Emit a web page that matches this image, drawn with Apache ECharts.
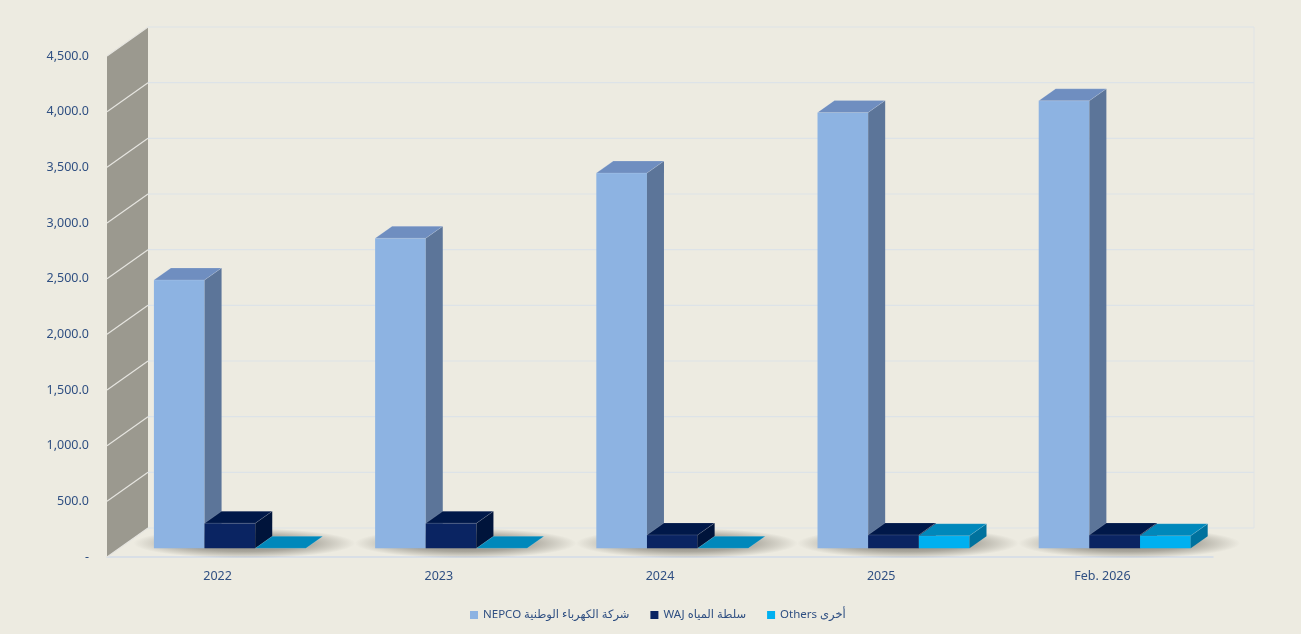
<!DOCTYPE html>
<html>
<head>
<meta charset="utf-8">
<script src="https://cdn.jsdelivr.net/npm/echarts@6/dist/echarts.min.js"></script>
<style>
  html, body { margin: 0; padding: 0; background: #EDEBE1; }
  #chart { width: 1301px; height: 634px; }
</style>
</head>
<body>
<div id="chart"></div>
<script>
// Annual figures per entity
const categories = ['2022', '2023', '2024', '2025', 'Feb. 2026'];
const seriesNames = ['NEPCO شركة الكهرباء الوطنية', 'WAJ سلطة المياه', 'Others أخرى'];
const nepcoValues = [2410, 2785, 3370, 3915, 4020];
const wajValues = [225, 225, 120, 120, 120];
const othersValues = [0, 0, 0, 113, 113];
const yTicks = [0, 500, 1000, 1500, 2000, 2500, 3000, 3500, 4000, 4500];

// Oblique projection of the depth direction (pixels)
const DEPTH = [41, -29];      // full floor depth: front edge -> back wall
const PLANE = [12.3, -8.7];   // depth at which the bar fronts stand
const BAR_DEPTH = [17, -12];  // thickness of each column
const BAR_FRAC = 0.229;       // column width as a share of the category band

const FONT = 'Noto Sans, DejaVu Sans, sans-serif';
const TEXT_COLOR = '#2F4F82';

const palette = [
  { front: '#8DB3E2', top: '#6F8EC0', side: '#5C7599' },
  { front: '#0A2462', top: '#001849', side: '#00143B' },
  { front: '#00B0F0', top: '#0088BB', side: '#00729E' }
];

function fmtTick(v) {
  if (v === 0) return '-';
  return v.toLocaleString('en-US', { minimumFractionDigits: 1, maximumFractionDigits: 1 });
}

// Back wall, side wall and their gridlines
function renderWalls(params, api) {
  const cs = params.coordSys;
  const left = cs.x, top = cs.y, right = cs.x + cs.width, bottom = cs.y + cs.height;
  const children = [{
    type: 'polygon',
    shape: { points: [[left, top], [left + DEPTH[0], top + DEPTH[1]], [left + DEPTH[0], bottom + DEPTH[1]], [left, bottom]] },
    style: { fill: '#9B998F' }
  }];
  yTicks.forEach(function (t) {
    const y = api.coord([0, t])[1];
    children.push({
      type: 'line',
      shape: { x1: left, y1: y, x2: left + DEPTH[0], y2: y + DEPTH[1] },
      style: { stroke: '#E6E5E0', lineWidth: 1.2 }
    });
    children.push({
      type: 'line',
      shape: { x1: left + DEPTH[0], y1: y + DEPTH[1], x2: right + DEPTH[0], y2: y + DEPTH[1] },
      style: { stroke: '#DDE3E8', lineWidth: 1.2 }
    });
  });
  children.push({
    type: 'line',
    shape: { x1: right + DEPTH[0], y1: top + DEPTH[1], x2: right + DEPTH[0], y2: bottom + DEPTH[1] },
    style: { stroke: '#DFE3E6', lineWidth: 1 }
  });
  return { type: 'group', children: children };
}

// Soft floor shadow under each cluster
function renderShadow(params, api) {
  const cat = api.value(0);
  const base = api.coord([cat, 0]);
  const band = api.size([1, 0])[0];
  const w = band * BAR_FRAC;
  const cx = base[0] + PLANE[0] + BAR_DEPTH[0] * 0.5 + 6;
  const cy = base[1] + PLANE[1] + BAR_DEPTH[1] * 0.5 + 1;
  const H = 30, W = w * 3 + 70;
  return {
    type: 'rect',
    x: cx, y: cy, scaleX: W / H, scaleY: 1,
    shape: { x: -H / 2, y: -H / 2, width: H, height: H },
    style: {
      fill: {
        type: 'radial', x: 0.5, y: 0.5, r: 0.5,
        colorStops: [
          { offset: 0, color: 'rgba(60,55,45,0.6)' },
          { offset: 0.55, color: 'rgba(60,55,45,0.38)' },
          { offset: 1, color: 'rgba(60,55,45,0)' }
        ]
      }
    },
    silent: true
  };
}

// One 3D column: front face, right side face and top face
function boxRenderer(k) {
  return function (params, api) {
    const cat = api.value(0);
    const val = api.value(1);
    const base = api.coord([cat, 0]);
    const tip = api.coord([cat, val]);
    const band = api.size([1, 0])[0];
    const w = band * BAR_FRAC;
    const x0 = base[0] - 1.5 * w + k * w + PLANE[0];
    const x1 = x0 + w;
    const yb = base[1] + PLANE[1];
    const yt = tip[1] + PLANE[1];
    const dx = BAR_DEPTH[0], dy = BAR_DEPTH[1];
    const c = palette[k];
    const children = [];
    if (yb - yt > 0.5) {
      children.push({ type: 'rect', shape: { x: x0, y: yt, width: w, height: yb - yt }, style: { fill: c.front } });
      children.push({
        type: 'polygon',
        shape: { points: [[x1, yt], [x1 + dx, yt + dy], [x1 + dx, yb + dy], [x1, yb]] },
        style: { fill: c.side }
      });
    }
    children.push({
      type: 'polygon',
      shape: { points: [[x0, yt], [x0 + dx, yt + dy], [x1 + dx, yt + dy], [x1, yt]] },
      style: { fill: c.top, stroke: 'rgba(255,255,255,0.25)', lineWidth: 0.6 }
    });
    return { type: 'group', children: children };
  };
}

const valueSets = [nepcoValues, wajValues, othersValues];

const chart = echarts.init(document.getElementById('chart'), null, { renderer: 'canvas' });
chart.setOption({
  backgroundColor: '#EDEBE1',
  animation: false,
  textStyle: { fontFamily: FONT },
  grid: { left: 107, right: 88, top: 56, bottom: 77, containLabel: false },
  legend: {
    left: 465, top: 604,
    icon: 'rect', itemWidth: 8, itemHeight: 8, itemGap: 21,
    textStyle: { color: TEXT_COLOR, fontSize: 11.5, fontFamily: FONT },
    data: seriesNames.map(function (n, i) { return { name: n, itemStyle: { color: palette[i].front } }; })
  },
  xAxis: {
    type: 'category',
    data: categories,
    axisLine: { show: true, lineStyle: { color: '#D2DCE8', width: 1.5 } },
    axisTick: { show: false },
    splitLine: { show: false },
    axisLabel: { color: TEXT_COLOR, fontSize: 12.5, margin: 13, fontFamily: FONT }
  },
  yAxis: {
    type: 'value',
    min: 0, max: 4500, interval: 500,
    axisLine: { show: false },
    axisTick: { show: false },
    splitLine: { show: false },
    axisLabel: { color: TEXT_COLOR, fontSize: 12.5, margin: 18, fontFamily: FONT, formatter: fmtTick }
  },
  series: [
    {
      type: 'custom', name: 'walls', silent: true, z: 1,
      renderItem: renderWalls,
      data: [[0, 0]],
      tooltip: { show: false }
    },
    {
      type: 'custom', name: 'shadow', silent: true, z: 2,
      renderItem: renderShadow,
      data: categories.map(function (c, i) { return [i, 0]; })
    }
  ].concat(seriesNames.map(function (name, k) {
    return {
      type: 'custom',
      name: name,
      z: 3 + k,
      itemStyle: { color: palette[k].front },
      renderItem: boxRenderer(k),
      encode: { x: 0, y: 1 },
      data: valueSets[k].map(function (v, i) { return [i, v]; })
    };
  }))
});
</script>
</body>
</html>
